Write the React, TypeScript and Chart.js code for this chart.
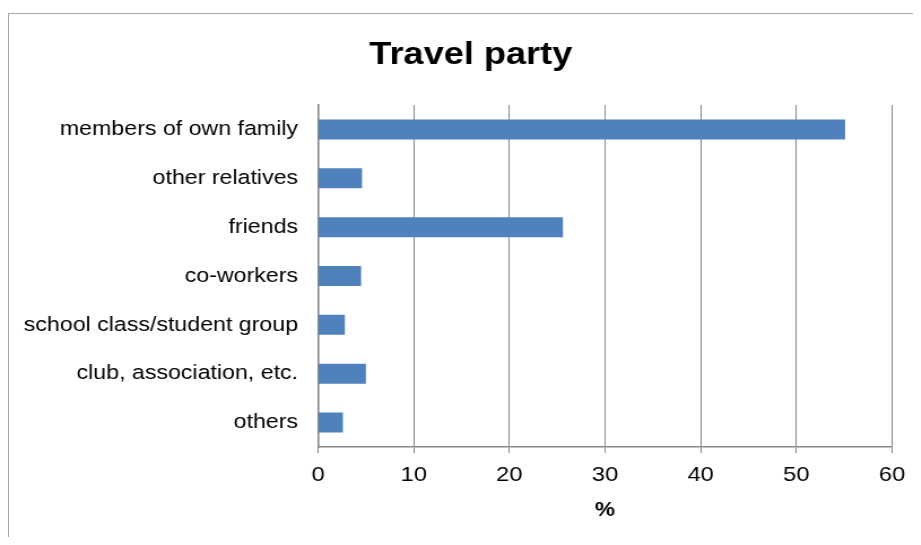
import React, { useEffect, useRef } from "react";
import { Chart, registerables } from "chart.js";

Chart.register(...registerables);

const categories = [
  "members of own family",
  "other relatives",
  "friends",
  "co-workers",
  "school class/student group",
  "club, association, etc.",
  "others",
];
const values = [55.1, 4.6, 25.6, 4.5, 2.8, 5.0, 2.6];
const xTicks = [0, 10, 20, 30, 40, 50, 60];
const chartTitle = "Travel party";
const xAxisTitle = "%";

const FONT = "'Liberation Sans', Arial, sans-serif";
const GRID = "#878787";
// the reference is slightly stretched horizontally; render narrower and stretch via CSS
const STRETCH = 1.13;
const DISPLAY_W = 904;
const DISPLAY_H = 523;
const RENDER_W = Math.round(DISPLAY_W / STRETCH);
const PAD_LEFT = 5;
const PAD_RIGHT = 18.6;
const TITLE_SHIFT = 31; // title centred over the (wider) original frame

const titleShift = {
  id: "titleShift",
  afterLayout(chart: any) {
    const tb = chart.titleBlock;
    if (tb) {
      tb.left += TITLE_SHIFT;
    }
  },
};

export default function App() {
  const ref = useRef<HTMLCanvasElement | null>(null);

  useEffect(() => {
    if (!ref.current) return;
    const chart = new Chart(ref.current, {
      type: "bar",
      data: {
        labels: categories,
        datasets: [
          {
            data: values,
            backgroundColor: "#4f81bd",
            borderWidth: 0,
            barPercentage: 0.41,
            categoryPercentage: 1,
          },
        ],
      },
      plugins: [titleShift],
      options: {
        indexAxis: "y",
        animation: false,
        responsive: false,
        maintainAspectRatio: false,
        devicePixelRatio: 1,
        layout: { padding: { left: PAD_LEFT, right: PAD_RIGHT, top: 0, bottom: 0 } },
        plugins: {
          legend: { display: false },
          tooltip: { enabled: false },
          title: {
            display: true,
            text: chartTitle,
            color: "#000",
            font: { family: FONT, size: 32, weight: "bold" },
            padding: { top: 22, bottom: 30.6 },
          },
        },
        scales: {
          x: {
            min: 0,
            max: 60,
            afterBuildTicks: (scale: any) => {
              scale.ticks = xTicks.map((v) => ({ value: v }));
            },
            afterFit: (scale: any) => {
              scale.height = 90;
              scale.paddingLeft = 0;
              scale.paddingRight = 0;
            },
            grid: {
              color: GRID,
              lineWidth: 1,
              tickLength: 6,
              drawTicks: true,
            },
            border: { color: GRID, width: 1.6 },
            ticks: {
              color: "#000",
              padding: 10,
              font: { family: FONT, size: 21 },
              maxRotation: 0,
            },
            title: {
              display: true,
              text: xAxisTitle,
              color: "#000",
              font: { family: FONT, size: 20, weight: "bold" },
              padding: { top: 0, bottom: 15 },
            },
          },
          y: {
            afterFit: (scale: any) => {
              scale.width = 273.5 - PAD_LEFT;
            },
            grid: { display: false, drawTicks: false },
            border: { display: true, color: GRID, width: 1.6 },
            ticks: {
              color: "#000",
              padding: 17.7,
              font: { family: FONT, size: 20.5 },
              autoSkip: false,
            },
          },
        },
      },
    });
    return () => chart.destroy();
  }, []);

  return (
    <div style={{ paddingTop: 5 }}>
      <div
        style={{
          width: DISPLAY_W + 1,
          height: DISPLAY_H + 1,
          boxSizing: "border-box",
          borderLeft: "1px solid #a6a6a6",
          borderTop: "1px solid #a6a6a6",
          overflow: "hidden",
        }}
      >
        <canvas
          ref={ref}
          width={RENDER_W}
          height={DISPLAY_H}
          style={{ display: "block", width: DISPLAY_W + "px", height: DISPLAY_H + "px" }}
        />
      </div>
    </div>
  );
}
